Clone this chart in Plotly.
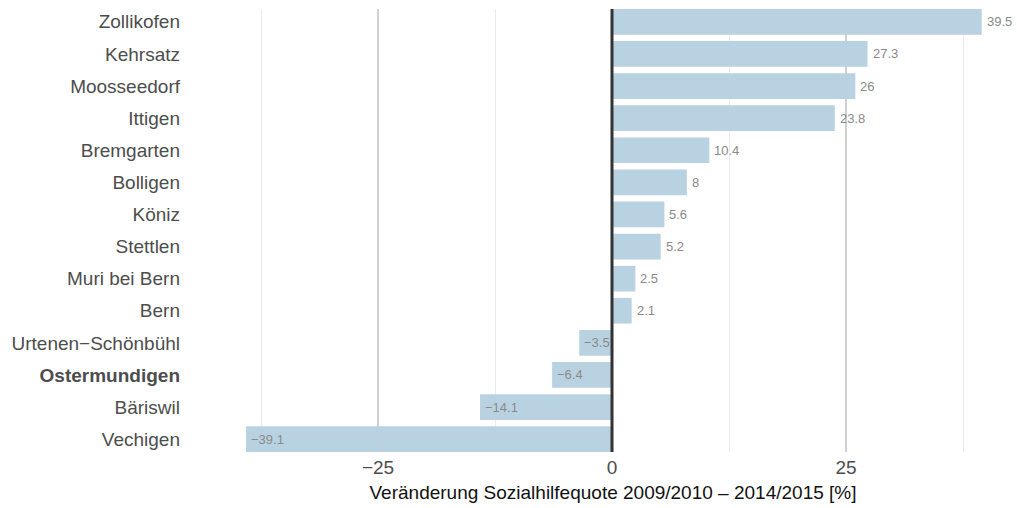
import plotly.graph_objects as go

communes = ["Zollikofen", "Kehrsatz", "Moosseedorf", "Ittigen", "Bremgarten", "Bolligen",
            "Köniz", "Stettlen", "Muri bei Bern", "Bern", "Urtenen\u2212Schönbühl",
            "Ostermundigen", "Bäriswil", "Vechigen"]
changes = [39.5, 27.3, 26, 23.8, 10.4, 8, 5.6, 5.2, 2.5, 2.1, -3.5, -6.4, -14.1, -39.1]
highlight = "Ostermundigen"
x_ticks = [-25, 0, 25]
x_title = "Veränderung Sozialhilfequote 2009/2010 \u2013 2014/2015 [%]"

FONT = "Liberation Sans, Arial, Helvetica, sans-serif"

def fmt(v):
    s = ("%g" % abs(v))
    return ("\u2212" + s) if v < 0 else s

fig = go.Figure()
fig.add_trace(go.Bar(
    x=changes, y=communes, orientation="h",
    marker=dict(color="#b9d2e1", line=dict(width=0)),
    width=0.8, hoverinfo="x+y",
))

for c, v in zip(communes, changes):
    fig.add_annotation(x=v, y=c, text=fmt(v), showarrow=False,
                       xanchor="left", xshift=3, yanchor="middle",
                       font=dict(family=FONT, size=13, color="#8a8a8a"))

fig.add_shape(type="line", xref="x", yref="paper", x0=0, x1=0, y0=0, y1=1,
              line=dict(color="#333333", width=3), layer="above")

ticktext = ["<b>%s</b>" % c if c == highlight else c for c in communes]

W, H = 1017, 508
L, R, T, B = 209, 0, 9, 56
zero_px = 612
ppu = 9.36
xmin = (L - zero_px) / ppu
xmax = (W - R - zero_px) / ppu

fig.update_layout(
    width=W, height=H,
    margin=dict(l=L, r=R, t=T, b=B),
    plot_bgcolor="white", paper_bgcolor="white",
    showlegend=False,
    font=dict(family=FONT, color="#4d4d4d"),
    bargap=0.2,
)
fig.update_xaxes(
    range=[xmin, xmax],
    tickvals=x_ticks,
    ticktext=[fmt(t) for t in x_ticks],
    showgrid=True, gridcolor="#d0d0d0", gridwidth=2,
    minor=dict(tickvals=[-37.5, -12.5, 12.5, 37.5], showgrid=True,
               gridcolor="#ebebeb", gridwidth=1),
    zeroline=False, showline=False, ticks="",
    ticklabelstandoff=2,
    tickfont=dict(size=19, color="#4d4d4d"),
    title=dict(text=x_title, font=dict(size=19, color="#111111"), standoff=8),
)
fig.update_yaxes(
    categoryorder="array", categoryarray=communes,
    range=[13.4, -0.4],
    tickvals=communes, ticktext=ticktext,
    showgrid=False, zeroline=False, showline=False, ticks="",
    ticklabelstandoff=28,
    tickfont=dict(size=19, color="#4d4d4d"),
)

fig.write_html("out.html", config={"displayModeBar": False},
               post_script="document.body.style.margin='0px';")
